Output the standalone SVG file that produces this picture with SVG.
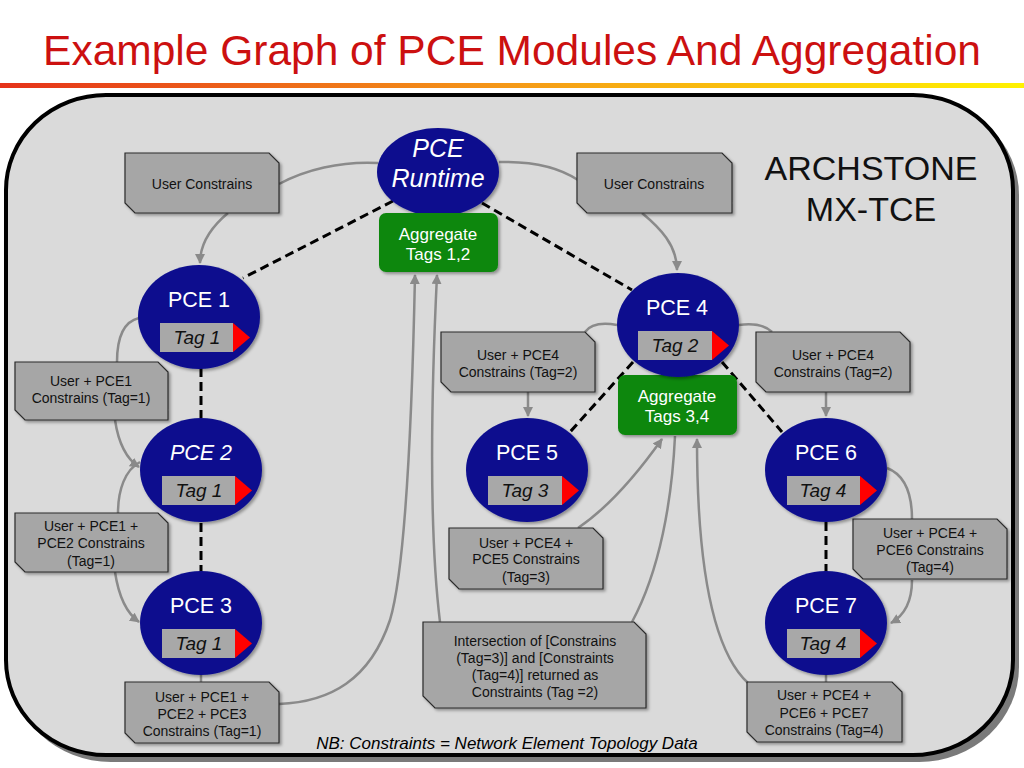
<svg xmlns="http://www.w3.org/2000/svg" width="1024" height="768" viewBox="0 0 1024 768">
<defs>
<linearGradient id="bar" x1="0" y1="0" x2="1" y2="0">
<stop offset="0" stop-color="#e5321a"/>
<stop offset="0.5" stop-color="#f59a18"/>
<stop offset="1" stop-color="#fff200"/>
</linearGradient>
<filter id="sh" x="-20%" y="-20%" width="140%" height="140%">
<feDropShadow dx="2" dy="2" stdDeviation="1.5" flood-color="#000" flood-opacity="0.35"/>
</filter>
<marker id="arr" viewBox="0 0 10 10" refX="9" refY="5" markerWidth="4" markerHeight="4" orient="auto" markerUnits="strokeWidth">
<path d="M0,0 L10,5 L0,10 z" fill="#8a8a8a"/>
</marker>
<style>
.title{font-family:"Liberation Sans",Arial,sans-serif;font-size:42.5px;fill:#cc1010;text-anchor:middle}
.frame{fill:#dadada;stroke:#000;stroke-width:4}
.fshadow{fill:#7a7a7a}
.pce{fill:#0a0d8e;filter:url(#sh)}
.plabel{font-family:"Liberation Sans",Arial,sans-serif;font-size:21.5px;fill:#fff;text-anchor:middle}
.rlabel{font-family:"Liberation Sans",Arial,sans-serif;font-size:25px;font-style:italic;fill:#fff;text-anchor:middle}
.tag{fill:#a8a8a8}
.tri{fill:#ff0000}
.tlabel{font-family:"Liberation Sans",Arial,sans-serif;font-size:19px;font-style:italic;fill:#111;text-anchor:middle}
.agg{fill:#0a870a;filter:url(#sh)}
.alabel{font-family:"Liberation Sans",Arial,sans-serif;font-size:17px;fill:#fff;text-anchor:middle}
.box{fill:#a6a6a6;stroke:#2a2a2a;stroke-width:1.2;filter:url(#sh)}
.blabel{font-family:"Liberation Sans",Arial,sans-serif;font-size:14px;fill:#111;text-anchor:middle}
.big{font-family:"Liberation Sans",Arial,sans-serif;font-size:34px;fill:#111;text-anchor:middle}
.nb{font-family:"Liberation Sans",Arial,sans-serif;font-size:17px;font-style:italic;fill:#000;text-anchor:middle}
.gc{fill:none;stroke:#8a8a8a;stroke-width:2.5}
.dash{fill:none;stroke:#000;stroke-width:3;stroke-dasharray:9,5}
</style>
</defs>
<rect width="1024" height="768" fill="#fff"/>
<text class="title" x="512" y="65">Example Graph of PCE Modules And Aggregation</text>
<rect x="0" y="83" width="1024" height="5" fill="url(#bar)"/>
<rect class="fshadow" x="11" y="100" width="1008" height="662" rx="100" ry="95"/>
<rect class="frame" x="6" y="95" width="1007" height="660" rx="100" ry="95"/>
<text class="big" x="871" y="180">ARCHSTONE</text>
<text class="big" x="871" y="221">MX-TCE</text>
<text class="nb" x="507" y="749">NB: Constraints = Network Element Topology Data</text>
<g id="connectors">
<path class="gc" d="M279,184 C305,170 340,161 378,163"/>
<path class="gc" d="M228,213 C210,228 200,245 200,263" marker-end="url(#arr)"/>
<path class="gc" d="M499,162 C535,161 560,168 578,180"/>
<path class="gc" d="M642,213 C660,228 677,245 677,270" marker-end="url(#arr)"/>
<path class="gc" d="M139,318 C122,322 117,340 117,362"/>
<path class="gc" d="M115,420 C118,440 125,458 139,467" marker-end="url(#arr)"/>
<path class="gc" d="M140,462 C125,470 118,490 118,513"/>
<path class="gc" d="M115,572 C118,592 125,612 139,622" marker-end="url(#arr)"/>
<path class="gc" d="M201,675 L201,682"/>
<path class="gc" d="M279,704 C330,702 370,680 390,620 C405,570 412,420 415,275" marker-end="url(#arr)"/>
<path class="gc" d="M440,622 C430,540 430,420 437,275" marker-end="url(#arr)"/>
<path class="gc" d="M617,325 C600,322 590,325 585,332"/>
<path class="gc" d="M528,392 L528,416" marker-end="url(#arr)"/>
<path class="gc" d="M739,325 C755,323 765,325 772,332"/>
<path class="gc" d="M826,392 L826,416" marker-end="url(#arr)"/>
<path class="gc" d="M578,528 C612,505 640,470 662,439" marker-end="url(#arr)"/>
<path class="gc" d="M675,436 C672,500 660,570 632,622"/>
<path class="gc" d="M748,683 C712,650 697,560 697,439" marker-end="url(#arr)"/>
<path class="gc" d="M887,468 C905,475 912,495 912,519"/>
<path class="gc" d="M912,580 C912,600 905,615 891,623" marker-end="url(#arr)"/>
<path class="gc" d="M826,675 L826,682"/>
<path class="dash" d="M393,201 L243,278"/>
<path class="dash" d="M482,203 L632,290"/>
<path class="dash" d="M201,368 L201,418"/>
<path class="dash" d="M201,523 L201,572"/>
<path class="dash" d="M633,362 L570,432"/>
<path class="dash" d="M722,362 L782,432"/>
<path class="dash" d="M826,522 L826,572"/>
</g>
<g id="uc1"><polygon class="box" points="125,153 269,153 279,163 279,213 135,213 125,203"/><text class="blabel" x="202" y="189">User Constrains</text></g>
<g id="uc2"><polygon class="box" points="577,153 722,153 732,163 732,213 587,213 577,203"/><text class="blabel" x="654" y="189">User Constrains</text></g>
<g id="b1"><polygon class="box" points="15,362 158,362 168,372 168,420 25,420 15,410"/><text class="blabel" x="91" y="386">User + PCE1</text><text class="blabel" x="91" y="403">Constrains (Tag=1)</text></g>
<g id="b2"><polygon class="box" points="15,513 158,513 168,523 168,572 25,572 15,562"/><text class="blabel" x="91" y="531">User + PCE1 +</text><text class="blabel" x="91" y="548">PCE2 Constrains</text><text class="blabel" x="91" y="566">(Tag=1)</text></g>
<g id="b3"><polygon class="box" points="125,682 269,682 279,692 279,743 135,743 125,733"/><text class="blabel" x="202" y="702">User + PCE1 +</text><text class="blabel" x="202" y="719">PCE2 + PCE3</text><text class="blabel" x="202" y="736">Constrains (Tag=1)</text></g>
<g id="b4l"><polygon class="box" points="441,332 585,332 595,342 595,392 451,392 441,382"/><text class="blabel" x="518" y="360">User + PCE4</text><text class="blabel" x="518" y="377">Constrains (Tag=2)</text></g>
<g id="b4r"><polygon class="box" points="756,332 900,332 910,342 910,392 766,392 756,382"/><text class="blabel" x="833" y="360">User + PCE4</text><text class="blabel" x="833" y="377">Constrains (Tag=2)</text></g>
<g id="b5"><polygon class="box" points="449,528 593,528 603,538 603,589 459,589 449,579"/><text class="blabel" x="526" y="548">User + PCE4 +</text><text class="blabel" x="526" y="564">PCE5 Constrains</text><text class="blabel" x="526" y="582">(Tag=3)</text></g>
<g id="bint"><polygon class="box" points="423,622 634,622 646,634 646,708 435,708 423,696"/><text class="blabel" x="535" y="646">Intersection of [Constrains</text><text class="blabel" x="535" y="663">(Tag=3)] and [Constraints</text><text class="blabel" x="535" y="680">(Tag=4)] returned as</text><text class="blabel" x="535" y="697">Constraints (Tag =2)</text></g>
<g id="b6"><polygon class="box" points="853,519 997,519 1007,529 1007,579 863,579 853,569"/><text class="blabel" x="930" y="538">User + PCE4 +</text><text class="blabel" x="930" y="555">PCE6 Constrains</text><text class="blabel" x="930" y="572">(Tag=4)</text></g>
<g id="b7"><polygon class="box" points="747,682 892,682 902,692 902,742 757,742 747,732"/><text class="blabel" x="824" y="700">User + PCE4 +</text><text class="blabel" x="824" y="718">PCE6 + PCE7</text><text class="blabel" x="824" y="735">Constrains (Tag=4)</text></g>
<g id="runtime"><ellipse class="pce" cx="438" cy="172" rx="61" ry="44"/><text class="rlabel" x="438" y="157">PCE</text><text class="rlabel" x="438" y="187">Runtime</text></g>
<g id="agg12"><rect class="agg" x="379" y="213" width="119" height="59" rx="7"/><text class="alabel" x="438" y="240">Aggregate</text><text class="alabel" x="438" y="260">Tags 1,2</text></g>
<g id="agg34"><rect class="agg" x="618" y="375" width="119" height="60" rx="7"/><text class="alabel" x="677" y="402">Aggregate</text><text class="alabel" x="677" y="422">Tags 3,4</text></g>
<g id="pce1"><ellipse class="pce" cx="199" cy="317" rx="61" ry="52"/><text class="plabel" x="199" y="307">PCE 1</text><rect class="tag" x="160" y="323" width="73" height="29"/><polygon class="tri" points="233,323 250,337.5 233,352"/><text class="tlabel" x="197" y="344">Tag 1</text></g>
<g id="pce2"><ellipse class="pce" cx="201" cy="470" rx="61" ry="52"/><text class="plabel" x="201" y="460" font-style="italic">PCE 2</text><rect class="tag" x="162" y="476" width="73" height="29"/><polygon class="tri" points="235,476 252,490.5 235,505"/><text class="tlabel" x="199" y="497">Tag 1</text></g>
<g id="pce3"><ellipse class="pce" cx="201" cy="623" rx="61" ry="52"/><text class="plabel" x="201" y="613">PCE 3</text><rect class="tag" x="162" y="629" width="73" height="29"/><polygon class="tri" points="235,629 252,643.5 235,658"/><text class="tlabel" x="199" y="650">Tag 1</text></g>
<g id="pce4"><ellipse class="pce" cx="678" cy="325" rx="61" ry="52"/><text class="plabel" x="677" y="315">PCE 4</text><rect class="tag" x="638" y="331" width="74" height="29"/><polygon class="tri" points="712,331 729,345.5 712,360"/><text class="tlabel" x="675" y="352">Tag 2</text></g>
<g id="pce5"><ellipse class="pce" cx="527" cy="470" rx="61" ry="52"/><text class="plabel" x="527" y="460">PCE 5</text><rect class="tag" x="488" y="476" width="74" height="29"/><polygon class="tri" points="562,476 579,490.5 562,505"/><text class="tlabel" x="525" y="497">Tag 3</text></g>
<g id="pce6"><ellipse class="pce" cx="826" cy="470" rx="61" ry="52"/><text class="plabel" x="826" y="460">PCE 6</text><rect class="tag" x="787" y="476" width="73" height="29"/><polygon class="tri" points="860,476 877,490.5 860,505"/><text class="tlabel" x="823" y="497">Tag 4</text></g>
<g id="pce7"><ellipse class="pce" cx="826" cy="623" rx="61" ry="52"/><text class="plabel" x="826" y="613">PCE 7</text><rect class="tag" x="787" y="629" width="73" height="29"/><polygon class="tri" points="860,629 877,643.5 860,658"/><text class="tlabel" x="823" y="650">Tag 4</text></g>
</svg>
